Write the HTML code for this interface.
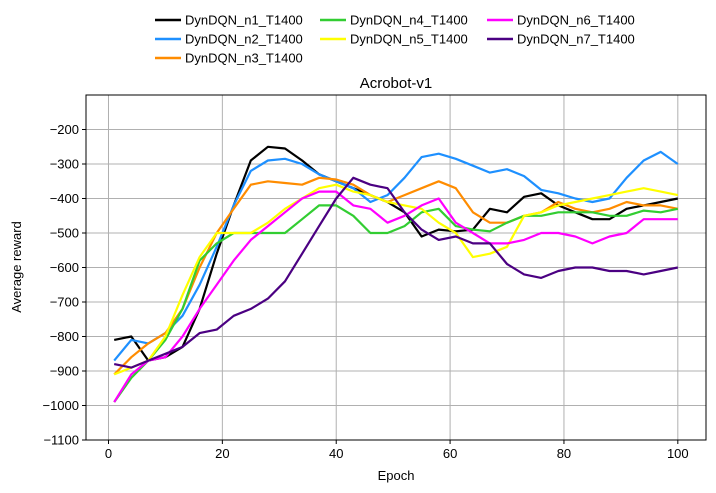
<!DOCTYPE html>
<html><head><meta charset="utf-8"><style>
body{margin:0;background:#fff;}
svg{display:block;font-family:"Liberation Sans","DejaVu Sans",sans-serif;}
</style></head><body>
<svg id="chart" width="716" height="493" viewBox="0 0 716 493" xmlns="http://www.w3.org/2000/svg">
<g id="grid"></g>
<g id="series"></g>
<rect x="86" y="95" width="620" height="345" fill="none" stroke="#000" stroke-width="1"/>
<g id="ticks"></g>
<text x="396" y="88" text-anchor="middle" font-size="15">Acrobot-v1</text>
<text x="396" y="480" text-anchor="middle" font-size="13">Epoch</text>
<text transform="translate(21,267) rotate(-90)" text-anchor="middle" font-size="13">Average reward</text>
<g id="legend"></g>
</svg>
<script>
const epochs=[1,4,7,10,13,16,19,22,25,28,31,34,37,40,43,46,49,52,55,58,61,64,67,70,73,76,79,82,85,88,91,94,97,100];
const n1=[-810,-800,-870,-860,-830,-720,-560,-420,-290,-250,-255,-290,-330,-350,-370,-390,-410,-440,-510,-490,-495,-490,-430,-440,-395,-385,-420,-440,-460,-460,-430,-420,-410,-400];
const n2=[-870,-810,-820,-790,-740,-650,-540,-420,-320,-290,-285,-300,-330,-350,-370,-410,-390,-340,-280,-270,-285,-305,-325,-315,-335,-375,-385,-400,-410,-400,-340,-290,-265,-300];
const n3=[-910,-860,-820,-790,-720,-600,-500,-430,-360,-350,-355,-360,-340,-345,-360,-390,-410,-390,-370,-350,-370,-440,-470,-470,-450,-440,-410,-430,-440,-430,-410,-420,-420,-430];
const n4=[-990,-920,-870,-810,-720,-580,-530,-500,-500,-500,-500,-460,-420,-420,-450,-500,-500,-480,-440,-430,-480,-490,-495,-470,-450,-450,-440,-440,-440,-450,-450,-435,-440,-430];
const n5=[-910,-890,-870,-800,-680,-570,-500,-500,-500,-470,-430,-400,-370,-360,-380,-390,-410,-420,-430,-470,-500,-570,-560,-540,-450,-440,-420,-410,-400,-390,-380,-370,-380,-390];
const n6=[-990,-910,-870,-860,-800,-720,-650,-580,-520,-480,-440,-400,-380,-380,-420,-430,-470,-450,-420,-400,-470,-500,-530,-530,-520,-500,-500,-510,-530,-510,-500,-460,-460,-460];
const n7=[-880,-890,-870,-850,-830,-790,-780,-740,-720,-690,-640,-560,-480,-400,-340,-360,-370,-440,-490,-520,-510,-530,-530,-590,-620,-630,-610,-600,-600,-610,-610,-620,-610,-600];
const seriesNames=["DynDQN_n1_T1400","DynDQN_n2_T1400","DynDQN_n3_T1400","DynDQN_n4_T1400","DynDQN_n5_T1400","DynDQN_n6_T1400","DynDQN_n7_T1400"];
const seriesColors=["#000000","#1e90ff","#ff8c00","#32cd32","#ffff00","#ff00ff","#4b0082"];
const xTicks=[0,20,40,60,80,100];
const yTicks=[-1100,-1000,-900,-800,-700,-600,-500,-400,-300,-200];

const NS="http://www.w3.org/2000/svg";
const L=86,R=706,T=95,B=440,xmin=-3.95,xmax=104.95,ymin=-1100,ymax=-100;
const X=v=>L+(v-xmin)/(xmax-xmin)*(R-L);
const Y=v=>B-(v-ymin)/(ymax-ymin)*(B-T);
function mk(tag,at,parent){const e=document.createElementNS(NS,tag);for(const k in at)e.setAttribute(k,at[k]);parent.appendChild(e);return e;}
const grid=document.getElementById('grid'),ticks=document.getElementById('ticks');
xTicks.forEach(t=>{
 const g=mk('line',{x1:X(t),x2:X(t),y1:T,y2:B,stroke:'#b0b0b0','stroke-width':1},grid);
 
 
 const tk=mk('line',{x1:X(t),x2:X(t),y1:B,y2:B+4,stroke:'#000'},ticks);
 
 
 const tx=mk('text',{x:X(t),y:B+18,'text-anchor':'middle','font-size':13},ticks);
 
 
 tx.textContent=t;
});
yTicks.forEach(t=>{
 const g=mk('line',{x1:L,x2:R,y1:Y(t),y2:Y(t),stroke:'#b0b0b0','stroke-width':1},grid);
 
 
 const tk=mk('line',{x1:L-4,x2:L,y1:Y(t),y2:Y(t),stroke:'#000'},ticks);
 
 
 const tx=mk('text',{x:L-7,y:Y(t)+4.5,'text-anchor':'end','font-size':13},ticks);
 
 
 tx.textContent=String(t).replace('-','\u2212');
});
const data=[n1,n2,n3,n4,n5,n6,n7];
const sg=document.getElementById('series');
data.forEach((vals,i)=>{
 const d=vals.map((v,j)=>(j?'L':'M')+X(epochs[j]).toFixed(1)+','+Y(v).toFixed(1)).join(' ');
 const p=mk('path',{d:d,fill:'none',stroke:seriesColors[i],'stroke-width':2.2,'stroke-linejoin':'round'},sg);
 
 
});
const lg=document.getElementById('legend');
const colX=[155,320,487],rowY=[20,39,58];
seriesNames.forEach((n,i)=>{
 const c=Math.floor(i/3)<2? (i<3?0:(i<6?1:2)) : 2;
 let col,row;
 if(i<3){col=0;row=i;}else if(i<5){col=1;row=i-3;}else{col=2;row=i-5;}
 const it=mk('g',{},lg);
 
 
 mk('line',{x1:colX[col],x2:colX[col]+26,y1:rowY[row],y2:rowY[row],stroke:seriesColors[i],'stroke-width':2.5},it);
 const t=mk('text',{x:colX[col]+30,y:rowY[row]+4.5,'font-size':13},it);
 t.textContent=n;
});
</script>
</body></html>
